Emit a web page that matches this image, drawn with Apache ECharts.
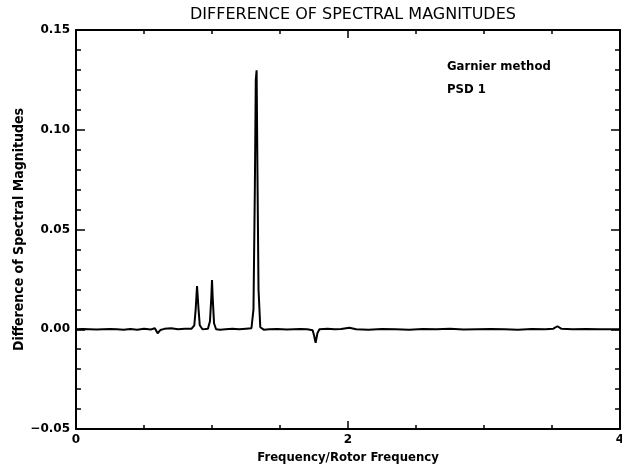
<!DOCTYPE html>
<html lang="en">
<head>
    <meta charset="UTF-8">
    <title>difference of spectral magnitudes</title>
    <script src="https://cdn.jsdelivr.net/npm/echarts@6/dist/echarts.min.js"></script>
    <style>
        html, body { margin: 0; padding: 0; background: #fff; }
        #main { width: 622px; height: 470px; }
    </style>
</head>
<body>
<div id="main"></div>
<script>
    // frequency / rotor frequency
    var freq = [
        0.00, 0.05, 0.10, 0.15, 0.20, 0.25, 0.30, 0.35, 0.40, 0.45,
        0.50, 0.55, 0.58, 0.60, 0.62, 0.65, 0.70, 0.75, 0.80, 0.85,
        0.87, 0.88, 0.89, 0.90, 0.91, 0.93, 0.95, 0.97, 0.985, 0.995,
        1.00, 1.005, 1.015, 1.03, 1.06, 1.10, 1.15, 1.20, 1.25, 1.29,
        1.305, 1.315, 1.322, 1.328, 1.334, 1.342, 1.355, 1.38, 1.42, 1.48,
        1.55, 1.60, 1.65, 1.70, 1.74, 1.75, 1.762, 1.775, 1.79, 1.85,
        1.90, 1.95, 2.01, 2.06, 2.15, 2.25, 2.35, 2.45, 2.55, 2.65,
        2.75, 2.85, 2.95, 3.05, 3.15, 3.25, 3.35, 3.45, 3.51, 3.54,
        3.57, 3.65, 3.75, 3.85, 3.95, 4.00
    ];
    // difference of spectral magnitudes
    var diff = [
        0.0000, 0.0001, 0.0000, -0.0001, 0.0000, 0.0001, 0.0000, -0.0003, 0.0001, -0.0002,
        0.0002, -0.0001, 0.0005, -0.0020, -0.0004, 0.0002, 0.0005, 0.0000, 0.0002, 0.0003,
        0.0020, 0.0100, 0.0217, 0.0110, 0.0020, 0.0000, 0.0001, 0.0003, 0.0040, 0.0160,
        0.0247, 0.0160, 0.0030, 0.0000, -0.0002, 0.0000, 0.0002, 0.0000, 0.0003, 0.0005,
        0.0100, 0.0700, 0.1250, 0.1298, 0.0800, 0.0200, 0.0010, -0.0002, 0.0000, 0.0001,
        -0.0001, 0.0000, 0.0001, 0.0000, -0.0005, -0.0030, -0.0068, -0.0020, 0.0000, 0.0002,
        0.0000, 0.0001, 0.0007, 0.0000, -0.0002, 0.0001, 0.0000, -0.0002, 0.0001, 0.0000,
        0.0002, -0.0001, 0.0000, 0.0001, 0.0000, -0.0002, 0.0001, 0.0000, 0.0003, 0.0015,
        0.0002, 0.0000, 0.0001, 0.0000, 0.0000, 0.0000
    ];
    var notes = ['Garnier method', 'PSD 1'];

    var pts = freq.map(function (f, i) { return [f, diff[i]]; });

    var tickFont = { color: '#000', fontFamily: 'DejaVu Sans', fontSize: 12, fontWeight: 'bold' };

    var myChart = echarts.init(document.getElementById('main'), null, { renderer: 'canvas' });

    var option = {
        animation: false,
        backgroundColor: '#fff',
        title: {
            text: 'DIFFERENCE OF SPECTRAL MAGNITUDES',
            left: 348, top: 2, textAlign: 'center',
            textStyle: { fontFamily: 'DejaVu Sans', fontSize: 16, fontWeight: 'normal', color: '#000' }
        },
        graphic: notes.map(function (t, i) {
            return {
                type: 'text', left: 447, top: 60 + i * 23,
                style: { text: t, fill: '#000', font: 'bold 13px "DejaVu Sans Condensed"' }
            };
        }),
        grid: { left: 76, right: 2, top: 30, bottom: 41, outerBoundsMode: 'none' },
        xAxis: [{
            type: 'value', min: 0, max: 4, interval: 2,
            name: 'Frequency/Rotor Frequency', nameLocation: 'middle', nameGap: 20,
            nameTextStyle: { color: '#000', fontFamily: 'DejaVu Sans Condensed', fontSize: 13, fontWeight: 'bold' },
            axisLine: { onZero: false, lineStyle: { color: '#000', width: 2 } },
            axisTick: { inside: true, length: 8, lineStyle: { color: '#000', width: 1.5 } },
            minorTick: { show: true, splitNumber: 4, length: 4, lineStyle: { color: '#000', width: 1.5 } },
            axisLabel: Object.assign({ margin: 5 }, tickFont),
            splitLine: { show: false }
        }, {
            type: 'value', min: 0, max: 4, interval: 2, position: 'top',
            axisLine: { onZero: false, lineStyle: { color: '#000', width: 2 } },
            axisTick: { inside: true, length: 8, lineStyle: { color: '#000', width: 1.5 } },
            minorTick: { show: true, splitNumber: 4, length: 4, lineStyle: { color: '#000', width: 1.5 } },
            axisLabel: { show: false },
            splitLine: { show: false }
        }],
        yAxis: [{
            type: 'value', min: -0.05, max: 0.15, interval: 0.05,
            name: 'Difference of Spectral Magnitudes', nameLocation: 'middle', nameGap: 50,
            nameMoveOverlap: false,
            nameTextStyle: { color: '#000', fontFamily: 'DejaVu Sans Condensed', fontSize: 14, fontWeight: 'bold' },
            axisLine: { onZero: false, lineStyle: { color: '#000', width: 2 } },
            axisTick: { inside: true, length: 9, lineStyle: { color: '#000', width: 1.5 } },
            minorTick: { show: true, splitNumber: 5, length: 5, lineStyle: { color: '#000', width: 1.5 } },
            axisLabel: Object.assign({
                margin: 6,
                formatter: function (v) { return v.toFixed(2).replace('-', '\u2212'); }
            }, tickFont),
            splitLine: { show: false }
        }, {
            type: 'value', min: -0.05, max: 0.15, interval: 0.05, position: 'right',
            axisLine: { onZero: false, lineStyle: { color: '#000', width: 2 } },
            axisTick: { inside: true, length: 9, lineStyle: { color: '#000', width: 1.5 } },
            minorTick: { show: true, splitNumber: 5, length: 5, lineStyle: { color: '#000', width: 1.5 } },
            axisLabel: { show: false },
            splitLine: { show: false }
        }],
        series: [{
            type: 'line',
            data: pts,
            showSymbol: false,
            lineStyle: { color: '#000', width: 2 },
            z: 3
        }]
    };

    myChart.setOption(option);
</script>
</body>
</html>
